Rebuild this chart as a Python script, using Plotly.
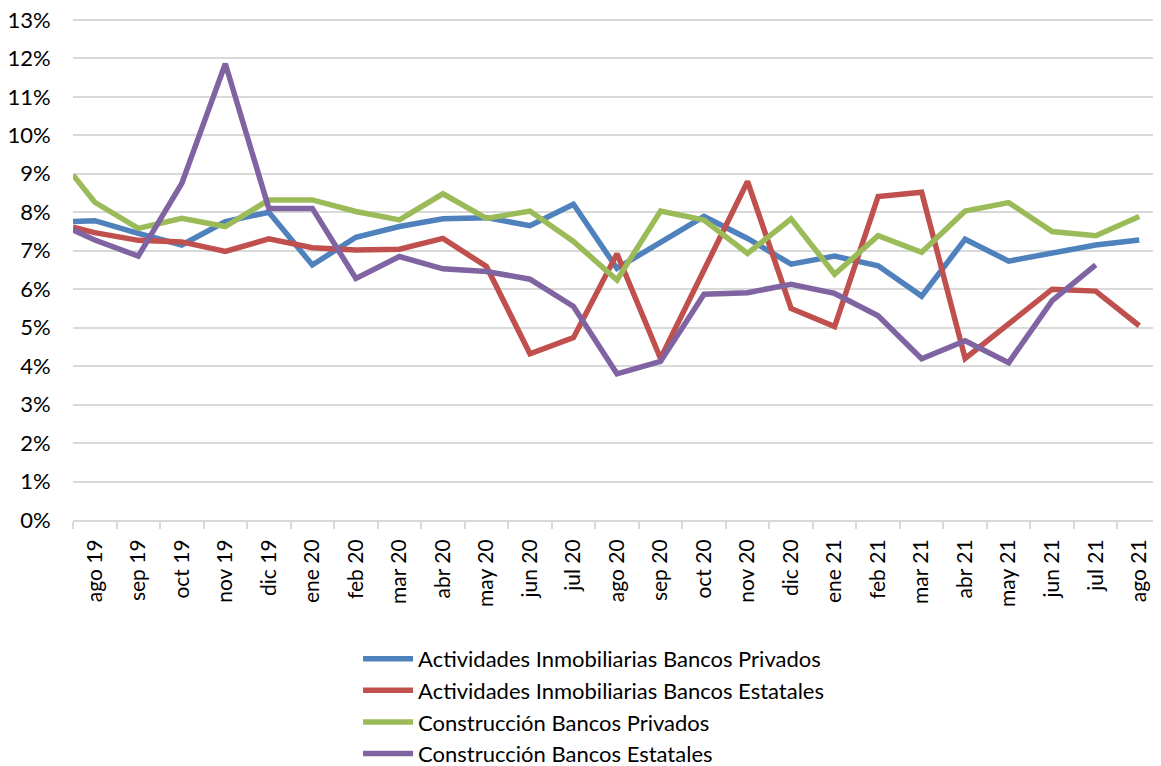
import plotly.graph_objects as go

labels = ["ago 19", "sep 19", "oct 19", "nov 19", "dic 19", "ene 20", "feb 20", "mar 20",
          "abr 20", "may 20", "jun 20", "jul 20", "ago 20", "sep 20", "oct 20", "nov 20",
          "dic 20", "ene 21", "feb 21", "mar 21", "abr 21", "may 21", "jun 21", "jul 21", "ago 21"]

# value drawn at the left edge of the axis (the line starts there), then one value per month
start_values = {
    "inm_priv": 7.76, "inm_est": 7.61, "con_priv": 8.97, "con_est": 7.54,
}

inm_priv = [7.78, 7.45, 7.15, 7.76, 8.00, 6.63, 7.35, 7.63, 7.83, 7.86, 7.65, 8.21, 6.54,
            7.22, 7.89, 7.32, 6.65, 6.86, 6.61, 5.82, 7.30, 6.73, 6.95, 7.15, 7.28]
inm_est = [7.47, 7.27, 7.23, 6.98, 7.31, 7.08, 7.02, 7.04, 7.32, 6.59, 4.32, 4.74, 6.92,
           4.20, 6.50, 8.80, 5.50, 5.03, 8.41, 8.52, 4.20, 5.10, 6.00, 5.95, 5.05]
con_priv = [8.26, 7.58, 7.84, 7.63, 8.32, 8.32, 8.02, 7.80, 8.48, 7.84, 8.03, 7.24, 6.24,
            8.03, 7.80, 6.93, 7.83, 6.39, 7.39, 6.96, 8.03, 8.25, 7.50, 7.39, 7.89]
con_est = [7.28, 6.86, 8.75, 11.86, 8.10, 8.10, 6.28, 6.85, 6.53, 6.46, 6.26, 5.55, 3.80,
           4.12, 5.87, 5.91, 6.13, 5.89, 5.31, 4.19, 4.66, 4.09, 5.70, 6.63]

y_ticks = [0, 1, 2, 3, 4, 5, 6, 7, 8, 9, 10, 11, 12, 13]

series = [
    ("Actividades Inmobiliarias Bancos Privados", "inm_priv", inm_priv, "#4F81BD"),
    ("Actividades Inmobiliarias Bancos Estatales", "inm_est", inm_est, "#C0504D"),
    ("Construcción Bancos Privados", "con_priv", con_priv, "#9BBB59"),
    ("Construcción Bancos Estatales", "con_est", con_est, "#8064A2"),
]

FONT = "Lato"
fig = go.Figure()
n = len(labels)
for name, key, vals, color in series:
    ys = [start_values[key]] + vals
    xs = [-0.5] + list(range(len(vals)))
    fig.add_trace(go.Scatter(
        x=xs, y=ys, mode="lines", name=name,
        line=dict(color=color, width=5.5), hoverinfo="skip",
    ))

# the page adds an 8px body margin, so the figure is 8px smaller than the window
fig.update_layout(
    width=1153, height=758,
    margin=dict(l=65, r=0, t=10, b=246, autoexpand=False),
    paper_bgcolor="white", plot_bgcolor="white",
    font=dict(family=FONT, size=21, color="#000000"),
    showlegend=True,
    legend=dict(
        x=0.262, y=-0.235, xanchor="left", yanchor="top",
        orientation="v", font=dict(family=FONT, size=22, color="#000000"),
        tracegroupgap=0, itemwidth=50, bgcolor="rgba(0,0,0,0)",
    ),
)
fig.update_xaxes(
    range=[-0.5, n - 0.5], automargin=False,
    tickmode="array", tickvals=list(range(n)), ticktext=labels,
    tickangle=-90, ticks="outside", ticklen=9, tickcolor="rgba(0,0,0,0)",
    showgrid=False, zeroline=False,
    showline=True, linecolor="#d9d9d9", linewidth=2,
    tickfont=dict(family=FONT, size=21, color="#000000"),
    minor=dict(tickmode="linear", tick0=-0.5, dtick=1, ticks="outside",
               ticklen=7, tickcolor="#d9d9d9", tickwidth=2, showgrid=False),
)
fig.update_yaxes(
    range=[0, 13.05], tickmode="array", tickvals=y_ticks,
    ticktext=[f"{t}%" for t in y_ticks],
    automargin=False, ticklabeloverflow="allow",
    showgrid=True, gridcolor="#d9d9d9", gridwidth=2,
    zeroline=False, showline=False,
    ticks="outside", ticklen=17, tickcolor="rgba(0,0,0,0)",
    tickfont=dict(family=FONT, size=22, color="#000000"),
)

fig.write_html("out.html")
